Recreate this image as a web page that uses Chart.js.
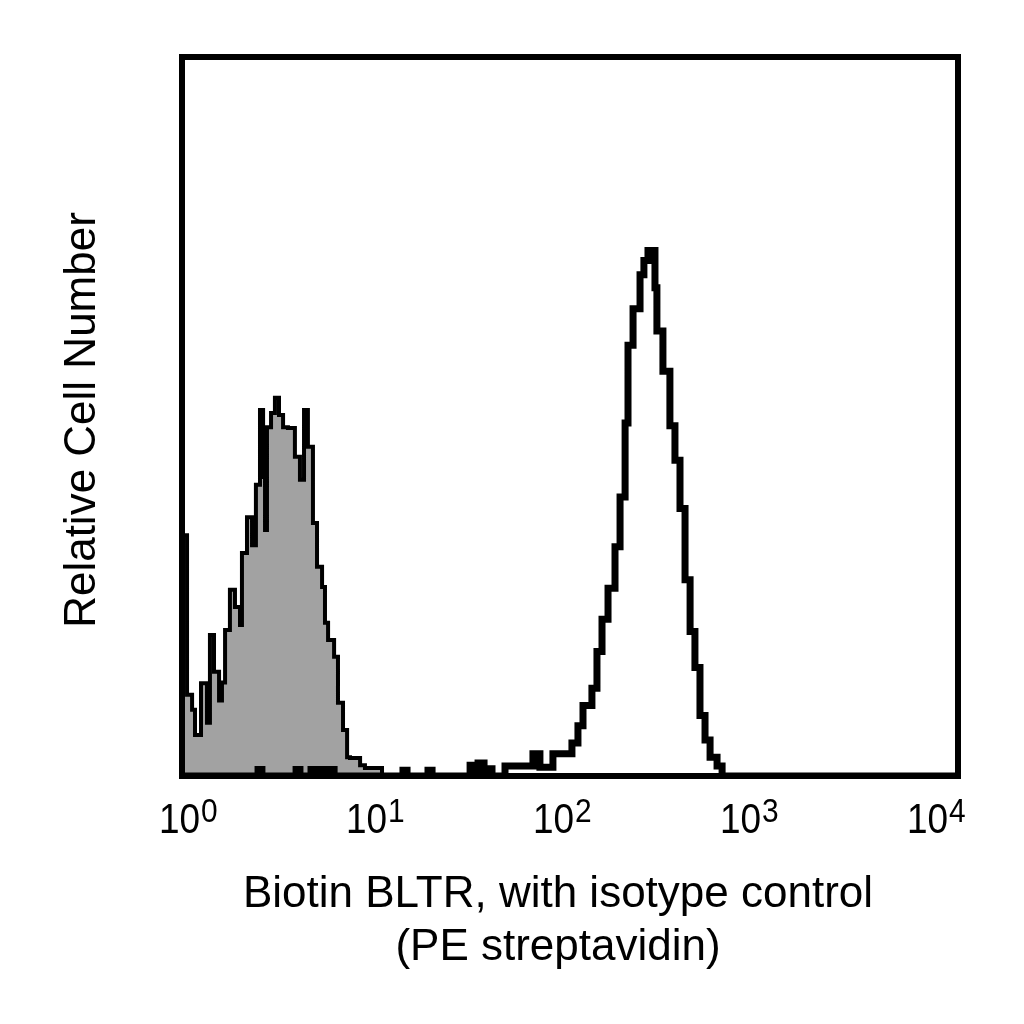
<!DOCTYPE html>
<html>
<head>
<meta charset="utf-8">
<script src="https://cdn.jsdelivr.net/npm/chart.js@4.4.1/dist/chart.umd.min.js"></script>
<style>
html,body{margin:0;padding:0;background:#fff;}
canvas{display:block;}
</style>
</head>
<body>
<canvas id="c" width="1024" height="1024"></canvas>
<script>
// Bin edges in decades (log10 of fluorescence), counts on a 0..100 relative scale
const isoEdges = [0.000,0.026,0.052,0.067,0.098,0.129,0.144,0.165,0.191,0.206,0.222,0.247,0.273,0.299,0.309,0.335,0.361,0.381,0.402,0.418,0.428,0.438,0.459,0.479,0.500,0.521,0.546,0.582,0.608,0.629,0.649,0.675,0.696,0.722,0.737,0.753,0.784,0.804,0.830,0.851,0.866,0.918,0.943,1.031];
const isoCounts = [33.5,11.3,9.2,5.7,12.9,7.4,19.6,14.5,10.5,13,20.3,25.9,23.5,21,31.0,36.0,32.1,40.5,50.9,41.6,34.2,48.5,50.5,52.6,50.2,48.5,48.4,44.4,41.2,50.9,45.8,35.2,29.1,26.3,21.3,18.9,16.6,10.2,6.4,2.6,2.5,1.5,1.1];

const bltrEdges = [0,0.392,0.412,0.588,0.608,0.665,0.686,0.706,0.727,0.763,0.784,1.139,1.160,1.268,1.289,1.485,1.505,1.526,1.557,1.577,1.598,1.665,1.809,1.845,1.912,2.010,2.041,2.067,2.113,2.139,2.165,2.196,2.232,2.258,2.284,2.299,2.325,2.361,2.381,2.402,2.438,2.448,2.479,2.515,2.541,2.567,2.593,2.619,2.644,2.670,2.696,2.722,2.758,2.784,4.000];
const bltrCounts = [0,0.9,0,0.9,0,0.9,0,0.9,0,0.9,0,0.8,0,0.8,0,1.5,0,1.8,0,1.0,0,1.4,3.1,1.2,3.1,4.6,7.0,9.8,12.2,17.3,21.8,26.1,31.9,38.8,49.1,59.9,65,69.7,71.7,73.1,67.9,61.9,56.3,48.7,43.9,37.2,27.3,20.1,15.1,8.4,5.0,2.6,1.4,0];

const tickValues = [1,10,100,1000,10000];
const tickBase = '10';
const tickExponents = ['0','1','2','3','4'];

const xTitleLines = ['Biotin BLTR, with isotype control','(PE streptavidin)'];
const yTitle = 'Relative Cell Number';

function stepPoints(edges, counts){
  const pts = [{x: Math.pow(10, edges[0]), y: 0}];
  for (let i = 0; i < counts.length; i++) {
    pts.push({x: Math.pow(10, edges[i]), y: counts[i]});
    pts.push({x: Math.pow(10, edges[i+1]), y: counts[i]});
  }
  pts.push({x: Math.pow(10, edges[edges.length-1]), y: 0});
  return pts;
}

const FONT = '"Liberation Sans", Arial, Helvetica, sans-serif';

const decor = {
  id: 'decor',
  afterDatasetsDraw(chart){
    const ctx = chart.ctx;
    const a = chart.chartArea;
    const xs = chart.scales.x;
    ctx.save();
    // frame
    ctx.strokeStyle = '#000';
    ctx.lineWidth = 6;
    ctx.lineJoin = 'miter';
    ctx.strokeRect(a.left, a.top, a.right - a.left, a.bottom - a.top);
    ctx.fillStyle = '#000';
    // tick labels 10^n
    for (let i = 0; i < tickValues.length; i++) {
      const px = xs.getPixelForValue(tickValues[i]);
      const cx = a.left + (px - a.left) * 0.964 - 2.5;
      ctx.save();
      ctx.font = '42px ' + FONT;
      const w = ctx.measureText(tickBase).width * 0.88;
      ctx.translate(cx, a.bottom + 57);
      ctx.scale(0.88, 1);
      ctx.textAlign = 'center';
      ctx.textBaseline = 'alphabetic';
      ctx.fillText(tickBase, 0, 0);
      ctx.restore();
      ctx.save();
      ctx.font = '34px ' + FONT;
      ctx.translate(cx + w / 2 + 1, a.bottom + 46);
      ctx.scale(0.88, 1);
      ctx.textAlign = 'left';
      ctx.textBaseline = 'alphabetic';
      ctx.fillText(tickExponents[i], 0, 0);
      ctx.restore();
    }
    // x title
    ctx.font = '44px ' + FONT;
    ctx.textAlign = 'center';
    ctx.textBaseline = 'alphabetic';
    const mx = (a.left + a.right) / 2 - 12;
    ctx.fillText(xTitleLines[0], mx, a.bottom + 131);
    ctx.fillText(xTitleLines[1], mx, a.bottom + 184);
    // y title
    ctx.save();
    ctx.translate(a.left - 87, (a.top + a.bottom) / 2 + 3.5);
    ctx.rotate(-Math.PI / 2);
    ctx.fillText(yTitle, 0, 0);
    ctx.restore();
    ctx.restore();
  }
};

new Chart(document.getElementById('c'), {
  type: 'line',
  data: {
    datasets: [
      {
        label: 'Biotin BLTR',
        data: stepPoints(bltrEdges, bltrCounts),
        borderColor: '#000',
        borderWidth: 7,
        fill: false,
        pointRadius: 0,
        tension: 0,
        borderJoinStyle: 'miter',
        order: 1
      },
      {
        label: 'Isotype control',
        data: stepPoints(isoEdges, isoCounts),
        borderColor: '#000',
        backgroundColor: '#a2a2a2',
        borderWidth: 4,
        fill: 'origin',
        pointRadius: 0,
        tension: 0,
        borderJoinStyle: 'miter',
        order: 2
      }
    ]
  },
  options: {
    responsive: false,
    animation: false,
    layout: { padding: { left: 182, right: 66, top: 57, bottom: 248 } },
    plugins: { legend: { display: false }, tooltip: { enabled: false } },
    scales: {
      x: { type: 'logarithmic', min: 1, max: 10000, display: false },
      y: { type: 'linear', min: 0, max: 100, display: false }
    }
  },
  plugins: [decor]
});
</script>
</body>
</html>
